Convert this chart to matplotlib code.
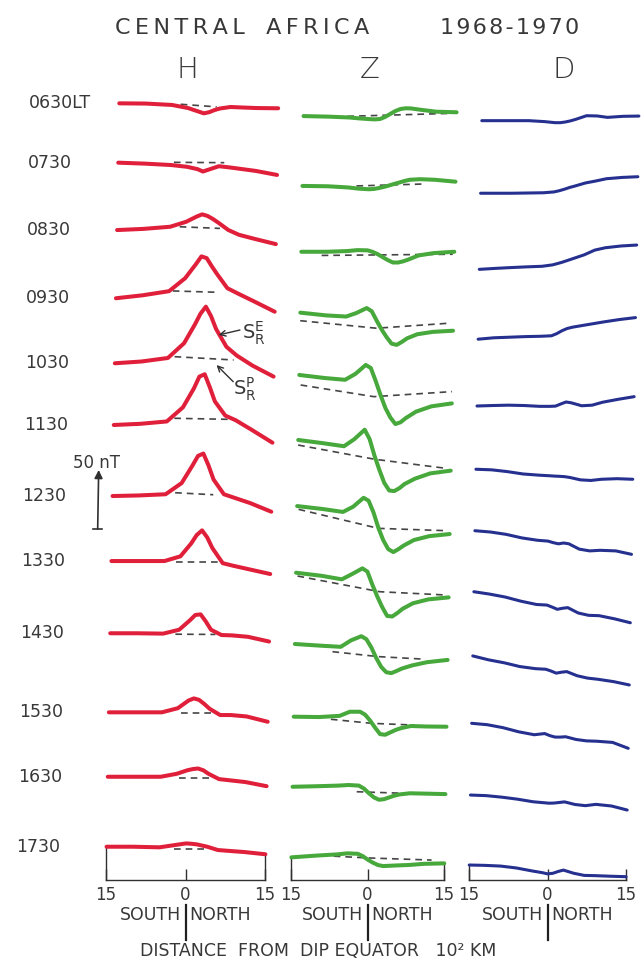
import numpy as np
import matplotlib.pyplot as plt
import matplotlib.transforms as mtransforms

# local times (rows, top to bottom)
times = ['0630LT', '0730', '0830', '0930', '1030', '1130',
         '1230', '1330', '1430', '1530', '1630', '1730']

# H component (nT relative to each row's left end), distance in 10^2 km
h_x = [-15, -10, -5, -2, 0, 1, 2, 3, 4, 6, 8, 11, 15]
h_vals = [
    [0, -0.2, -1.4, -4, -7, -8.5, -7.5, -5.7, -4.4, -3.1, -3.5, -4, -4.2],
    [0, -0.8, -2, -3.5, -5.5, -7.5, -6, -4.5, -3, -4, -5.2, -7, -10.4],
    [0, 1, 2.8, 7, 11.5, 13.3, 12, 9.5, 6.5, 0, -4, -7.5, -11.9],
    [0, 2.5, 6, 17, 29, 35.5, 34, 27, 20.5, 8.5, 4, -2.5, -11.4],
    [0, 1.5, 4.5, 17, 33, 42, 48, 40, 29, 14, 6.5, -2, -11.3],
    [0, 1, 3, 15, 31, 41, 43, 32, 20, 8, 4, -4, -15],
    [0, 0.5, 1.5, 11, 26, 34, 36, 26, 14, 1.5, -1.5, -6, -13.3],
    [0, 0, 0, 4, 15, 22, 26, 20, 11, -1.8, -4, -7, -11],
    [0, 0, -0.3, 3, 11, 15.5, 16, 10, 3, -1.5, -1.8, -3, -7],
    [0, 0, 0, 3.5, 10, 11.8, 10.5, 7, 3, -2.3, -2.3, -3.5, -8],
    [0, 0, 0, 2.5, 5.5, 6.5, 7, 5.5, 2.5, -2, -3, -4.5, -8],
    [0, 0, -0.5, 1.5, 2.8, 2.5, 2, 1, 0, -2.8, -3.5, -4.5, -6.4],
]
h_dash_x = [[-3.4, 3.4], [-4.5, 5], [-3.2, 4.4], [-4.3, 3.9], [-3.75, 7.4],
            [-3.6, 6.6], [-3.2, 4], [-2.9, 5.5], [-2.7, 4.85], [-1.3, 4.4],
            [-1.6, 4.1], [-2.3, 4.2]]
h_dash_y = [[-0.8, -3], [0.3, 0], [2.8, 1.4], [6.2, 5.1], [5.6, 2.8],
            [5.7, 4.8], [2.8, 1.1], [-0.9, -0.9], [-0.8, -1.0], [-0.3, -0.3],
            [-1.4, -1.4], [-2.2, -2.2]]

# Z component
z_x = [-15, -10, -6, -4, -2, -1, 0, 1, 2, 3, 4, 5, 6, 8, 11, 15]
z_vals = [
    [-10.8, -11.3, -12, -12.8, -13.4, -13.6, -13.3, -11.5, -9, -6.5, -4.8, -4.2, -4.3, -5.5, -7.1, -7.6],
    [-19.7, -20, -21, -22, -22.5, -22.3, -21.5, -20.5, -19.3, -18, -16.8, -15.5, -14.5, -14, -14.5, -16.1],
    [-18.4, -18.4, -17.8, -17, -17.2, -18.5, -20.5, -23, -25.5, -27.5, -27.5, -26.5, -25, -21.5, -19.5, -18.4],
    [-12.2, -14.5, -15.5, -12.5, -8.3, -11, -19, -26.5, -33, -38.5, -39.5, -37, -34, -30.5, -28.5, -27.5],
    [-9.9, -12.5, -14, -9, -1.4, -4, -15, -27, -38, -46, -51.5, -50, -46.5, -41, -36.5, -34],
    [-12.7, -15.5, -18, -12, -4, -12, -26, -38, -49, -55.5, -56, -53.5, -50, -45.5, -41, -38.7],
    [-8.5, -11, -13.5, -9, -1.5, -4, -14, -27, -37.5, -45, -47.5, -45, -42, -37.3, -34, -32.2],
    [-9.9, -12.5, -15.5, -11, -6.2, -9, -20, -30, -39, -46.5, -47, -44, -40.5, -35.8, -32.5, -30.8],
    [-9.1, -10.5, -11.5, -6, -2.5, -5, -12, -21, -28.5, -33, -33.8, -32, -30, -27.3, -24.5, -22.6],
    [-3.7, -4, -3, 0.5, 0.5, -2, -7, -13, -18.5, -19, -17, -15, -13.5, -11.6, -12, -12.2],
    [-8.5, -8, -7.5, -7, -7.5, -10, -14, -17.5, -19.5, -19, -17.5, -16, -15, -14, -14.3, -14.7],
    [-9, -7.5, -6.5, -5.6, -6, -8, -11, -13.5, -15.5, -16.4, -16.2, -16, -15.8, -15.5, -14.5, -14.1],
]
z_dash_x = [[-6.4, 14], [-4.4, 9.3], [-11, 14.7], [-15, 0, 14], [-14.7, -0.3, 15],
            [-15, 0, 14], [-14.7, 1, 14.5], [-14.7, 1.5, 14.5], [-7.6, 1.4, 10.6],
            [-7.7, 0.2, 8.7], [-2.4, 7.5], [-6.7, 0, 12.5]]
z_dash_y = [[-11, -8.5], [-19.7, -18], [-21.5, -20.5], [-19, -25.4, -21.2],
            [-18.4, -28.3, -24], [-17, -29, -36.7], [-11.3, -27.4, -29.4],
            [-12.7, -26, -28.8], [-15.6, -19.8, -22], [-5.9, -9.3, -10.8],
            [-12.7, -14.1], [-8, -9.5, -11.3]]

# D component
d_x = [-15, -12, -9, -6, -3, -1, 0, 1, 2, 3, 5, 7, 9, 12, 15]
d_vals = [
    [-14.7, -14.7, -14.7, -14.7, -15.5, -16.4, -16.4, -15.8, -14.8, -13.5, -10.5, -10.7, -11.9, -11, -10.8],
    [-25.9, -25.9, -25.9, -25.7, -25.5, -24.8, -23.8, -22.5, -21, -19.8, -17.2, -15.5, -13.6, -12.5, -11.9],
    [-33.3, -32.5, -31.8, -31.2, -30.7, -29.5, -28.3, -27, -25.5, -24, -21, -17, -15, -13.5, -12.7],
    [-34.7, -33.5, -33, -32.5, -32.2, -31.8, -30, -27.5, -25.6, -24.5, -23, -21.5, -20, -18, -16.4],
    [-36.2, -35.8, -35.5, -35.8, -36.5, -36.5, -36.3, -34.5, -32.8, -33.5, -36, -35.5, -33, -30.5, -28.3],
    [-37.5, -38, -39.5, -41.5, -42.5, -43, -43.3, -43.5, -43.8, -44.5, -46.5, -47, -46, -45.5, -46],
    [-29.4, -30.5, -32.5, -35.5, -37.5, -38.2, -39.5, -40.5, -39.8, -40.5, -45, -46.5, -46, -46.5, -49.4],
    [-26, -28, -30.5, -34, -36.8, -37.3, -39, -40.9, -40, -39.5, -44, -46, -46.3, -49, -52.3],
    [-19.2, -22.5, -25, -28.2, -30, -30.5, -32, -33.8, -33, -32.5, -36, -38, -39, -41, -43.8],
    [-9.3, -10.5, -13, -16.5, -19, -18, -19.8, -21, -21, -20.7, -23, -24.2, -24.5, -25.5, -30.5],
    [-15.5, -16, -17.3, -19, -21.2, -22, -22.4, -22.3, -21.8, -21.3, -23.5, -24.5, -23.4, -24.8, -28.2],
    [-15.5, -15.8, -16.4, -18, -20.5, -22, -23, -22.5, -21, -19.8, -22.5, -24.3, -24.5, -25, -25.4],
]

# ---- layout ----
W, H = 644, 969
PX_PER_NT = 1.18
AX_BOTTOM, AX_TOP = 880, 80
row_base = [658.2, 607.9, 550.8, 493.0, 437.9, 385.6,
            325.4, 270.3, 209.1, 142.1, 87.5, 28.2]   # nT above bottom axis
SKEW = 0.0038   # scanned page is slightly tilted
TXT = '#383838'
plt.rcParams['font.family'] = ['DejaVu Sans']

fig = plt.figure(figsize=(W / 100, H / 100), dpi=100)

columns = [
    ('H', 106, 265, 187, h_x, h_vals, h_dash_x, h_dash_y, '#e0203a', 2.9),
    ('Z', 291, 444, 370, z_x, z_vals, z_dash_x, z_dash_y, '#47a83c', 2.9),
    ('D', 469, 626, 564, d_x, d_vals, None, None, '#25308f', 2.2),
]

axes = {}
for name, x0, x1, xhead, xs, vals, dx, dy, color, lw in columns:
    ax = fig.add_axes([x0 / W, 1 - AX_BOTTOM / H, (x1 - x0) / W,
                       (AX_BOTTOM - AX_TOP) / H])
    axes[name] = ax
    ax.set_xlim(-15, 15)
    ax.set_ylim(0, (AX_BOTTOM - AX_TOP) / PX_PER_NT)
    tr = mtransforms.Affine2D(np.array([[1, SKEW, 0], [0, 1, 0], [0, 0, 1]])) + ax.transData
    ax.tilt = tr

    for i, row in enumerate(vals):
        ax.plot(xs, np.array(row) + row_base[i], color=color, lw=lw,
                solid_capstyle='round', solid_joinstyle='round',
                transform=tr, clip_on=False, zorder=3)
        if dx is not None:
            ax.plot(dx[i], np.array(dy[i]) + row_base[i], color='#454545',
                    lw=1.2, dashes=(4, 3), transform=tr, clip_on=False, zorder=2)

    # box under the last row
    ax.spines['top'].set_visible(False)
    for s in ['left', 'right', 'bottom']:
        ax.spines[s].set_color('#303030')
        ax.spines[s].set_linewidth(1.0)
    ax.spines['left'].set_bounds(0, row_base[-1] + vals[-1][0])
    ax.spines['right'].set_bounds(0, row_base[-1] + vals[-1][-1])
    ax.set_yticks([])
    ax.set_xticks([-15, 0, 15], labels=['15', '0', '15'])
    ax.tick_params(axis='x', direction='in', length=8, width=1.0,
                   color='#303030', pad=4, labelsize=12, labelcolor=TXT)
    ax.patch.set_visible(False)

    # SOUTH | NORTH
    xt = ax.get_xaxis_transform()
    ax.plot([0, 0], [-0.031, -0.075], color='#202020', lw=1.6,
            transform=xt, clip_on=False)
    ax.text(-0.8, -0.044, 'SOUTH', ha='right', va='center', fontsize=12.5,
            color=TXT, transform=xt)
    ax.text(0.8, -0.044, 'NORTH', ha='left', va='center', fontsize=12.5,
            color=TXT, transform=xt)

    # column header
    fig.text(xhead / W, 1 - 70 / H, name, ha='center', va='center',
             fontsize=21, fontweight='light', color=TXT)

axh = axes['H']
# local time labels
for i, t in enumerate(times):
    axh.text(-32, row_base[i], t, ha='left', va='center', fontsize=12.5,
             color=TXT, transform=axh.tilt, clip_on=False)

# 50 nT scale bar
axh.annotate('', xy=(-17.7, 347.5), xytext=(-17.7, 297.5),
             xycoords=axh.tilt, textcoords=axh.tilt,
             arrowprops=dict(arrowstyle='-|>', lw=1.2, color='#303030',
                             mutation_scale=12, shrinkA=0, shrinkB=0))
axh.plot([-18.6, -16.8], [297.5, 297.5], color='#303030', lw=1.2,
         transform=axh.tilt, clip_on=False)
axh.text(-18.2, 353.5, '50 nT', ha='center', va='center', fontsize=12,
         color=TXT, transform=axh.tilt, clip_on=False)

# S_R^E and S_R^P labels on the 1030 H curve
b = row_base[4]
axh.annotate('', xy=(4.5, b + 24), xytext=(8.5, b + 28.2),
             xycoords=axh.tilt, textcoords=axh.tilt,
             arrowprops=dict(arrowstyle='->', lw=1.0, color='#303030',
                             shrinkA=0, shrinkB=0))
axh.text(8.9, b + 25.7, r'$\mathregular{S_R^E}$', ha='left', va='center',
         fontsize=14, color=TXT, transform=axh.tilt, clip_on=False)
axh.annotate('', xy=(4.2, b - 1.5), xytext=(7.4, b - 15.6),
             xycoords=axh.tilt, textcoords=axh.tilt,
             arrowprops=dict(arrowstyle='->', lw=1.0, color='#303030',
                             shrinkA=0, shrinkB=0))
axh.text(7.4, b - 22, r'$\mathregular{S_R^P}$', ha='left', va='center',
         fontsize=14, color=TXT, transform=axh.tilt, clip_on=False)

# titles (hand lettering is widely spaced)
spaced = lambda s, sep='\u2009': sep.join(s)
fig.text(115 / W, 1 - 28 / H, spaced('CENTRAL') + '   ' + spaced('AFRICA'),
         ha='left', va='center', fontsize=16, color=TXT)
fig.text(440 / W, 1 - 28 / H, spaced('1968-1970', '\u200a'), ha='left',
         va='center', fontsize=16, color=TXT)
fig.text(318 / W, 1 - 951 / H, 'DISTANCE  FROM  DIP EQUATOR   10² KM',
         ha='center', va='center', fontsize=12.5, color=TXT)

fig.savefig('out.png', dpi=100, facecolor='white')
